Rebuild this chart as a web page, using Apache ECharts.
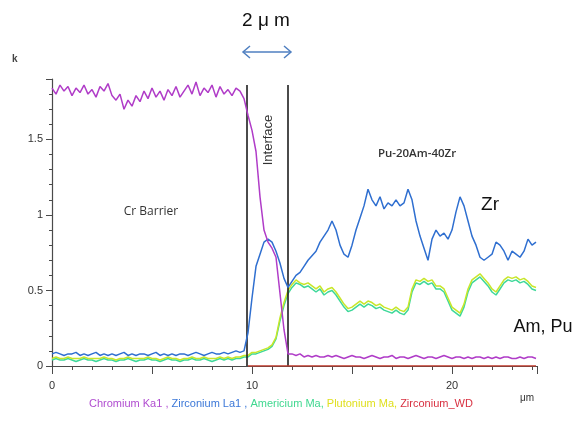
<!DOCTYPE html>
<html>
<head>
<meta charset="utf-8">
<script src="https://cdn.jsdelivr.net/npm/echarts@6/dist/echarts.min.js"></script>
<style>
  html, body { margin: 0; padding: 0; background: #fff; }
  #chart { width: 576px; height: 428px; }
</style>
</head>
<body>
<div id="chart"></div>
<script>
// Line scan across the Cr barrier / Pu-20Am-40Zr fuel interface (k-ratio vs distance)
const step = 0.2;          // µm between scan points, starting at 0
const xLabels = [0, 10, 20];
const yLabels = [0, 0.5, 1, 1.5];

const chromium = [
  1.84,1.80,1.86,1.82,1.85,1.79,1.84,1.81,1.86,1.80,
  1.83,1.78,1.85,1.82,1.87,1.79,1.76,1.80,1.70,1.76,
  1.72,1.79,1.75,1.82,1.77,1.84,1.78,1.82,1.76,1.83,
  1.79,1.85,1.78,1.82,1.86,1.80,1.88,1.79,1.84,1.81,
  1.86,1.78,1.85,1.80,1.83,1.79,1.84,1.82,1.77,1.66,
  1.56,1.42,1.12,0.90,0.82,0.78,0.72,0.48,0.24,0.08,
  0.08,0.07,0.08,0.06,0.07,0.06,0.07,0.06,0.06,0.07,
  0.06,0.07,0.06,0.05,0.06,0.07,0.06,0.06,0.05,0.06,
  0.07,0.06,0.05,0.06,0.06,0.07,0.05,0.06,0.06,0.05,
  0.06,0.07,0.06,0.05,0.06,0.06,0.05,0.06,0.07,0.06,
  0.05,0.06,0.06,0.05,0.06,0.05,0.06,0.06,0.05,0.06,
  0.05,0.06,0.05,0.06,0.06,0.05,0.05,0.06,0.05,0.06,
  0.06,0.05
];

const zirconium = [
  0.08,0.09,0.08,0.07,0.08,0.08,0.09,0.07,0.08,0.07,
  0.08,0.09,0.07,0.08,0.07,0.08,0.07,0.08,0.09,0.07,
  0.08,0.07,0.08,0.08,0.07,0.08,0.09,0.07,0.08,0.07,
  0.08,0.07,0.08,0.08,0.07,0.08,0.09,0.08,0.07,0.08,
  0.09,0.08,0.08,0.09,0.08,0.09,0.10,0.09,0.10,0.22,
  0.45,0.66,0.74,0.82,0.84,0.82,0.76,0.68,0.58,0.52,
  0.56,0.60,0.62,0.66,0.70,0.73,0.76,0.82,0.86,0.90,
  0.96,0.90,0.80,0.74,0.72,0.80,0.90,0.98,1.06,1.17,
  1.10,1.06,1.12,1.04,1.08,1.06,1.10,1.06,1.08,1.17,
  1.10,0.96,0.86,0.78,0.70,0.84,0.90,0.86,0.88,0.84,
  0.90,1.02,1.12,1.06,0.96,0.86,0.80,0.72,0.70,0.72,
  0.74,0.82,0.80,0.76,0.70,0.76,0.74,0.72,0.76,0.84,
  0.80,0.82
];

const americium = [
  0.04,0.05,0.04,0.04,0.05,0.04,0.03,0.04,0.05,0.04,
  0.04,0.03,0.04,0.05,0.04,0.04,0.03,0.04,0.04,0.05,
  0.04,0.03,0.04,0.04,0.05,0.04,0.04,0.03,0.04,0.05,
  0.04,0.04,0.03,0.04,0.04,0.05,0.04,0.04,0.05,0.04,
  0.03,0.04,0.05,0.04,0.05,0.04,0.05,0.05,0.06,0.06,
  0.08,0.08,0.09,0.10,0.11,0.13,0.18,0.30,0.40,0.48,
  0.52,0.55,0.54,0.52,0.53,0.51,0.49,0.51,0.47,0.49,
  0.50,0.47,0.43,0.39,0.36,0.37,0.39,0.41,0.39,0.41,
  0.40,0.38,0.39,0.37,0.36,0.35,0.37,0.35,0.34,0.37,
  0.49,0.55,0.54,0.56,0.54,0.55,0.51,0.51,0.49,0.43,
  0.37,0.35,0.33,0.39,0.49,0.55,0.57,0.59,0.56,0.53,
  0.49,0.47,0.51,0.55,0.57,0.56,0.57,0.55,0.56,0.54,
  0.51,0.50
];

const plutonium = [
  0.05,0.06,0.05,0.05,0.06,0.05,0.05,0.05,0.06,0.05,
  0.05,0.05,0.05,0.06,0.05,0.05,0.04,0.05,0.05,0.06,
  0.05,0.05,0.05,0.05,0.06,0.05,0.05,0.04,0.05,0.06,
  0.05,0.05,0.04,0.05,0.05,0.06,0.05,0.05,0.06,0.05,
  0.05,0.05,0.06,0.05,0.06,0.05,0.06,0.06,0.07,0.07,
  0.09,0.09,0.10,0.11,0.12,0.14,0.19,0.32,0.42,0.50,
  0.54,0.57,0.55,0.54,0.55,0.53,0.51,0.53,0.49,0.51,
  0.52,0.49,0.45,0.41,0.38,0.39,0.41,0.43,0.41,0.43,
  0.42,0.40,0.41,0.39,0.38,0.37,0.39,0.37,0.36,0.39,
  0.51,0.57,0.56,0.58,0.56,0.57,0.53,0.53,0.51,0.45,
  0.39,0.37,0.35,0.41,0.51,0.57,0.59,0.61,0.58,0.55,
  0.51,0.49,0.53,0.57,0.59,0.58,0.59,0.57,0.58,0.56,
  0.53,0.52
];

// Zirconium_WD trace sits on the baseline across the fuel side
const zrWdPos = [9.8, 24.2];
const zrWdVals = [0, 0];

// interface boundaries (µm) and the height the marker lines reach (k)
const boundaries = [9.75, 11.8];
const boundaryTop = 1.86;

const pos = chromium.map((_, i) => +(i * step).toFixed(2));
const pairs = (vals) => vals.map((v, i) => [pos[i], v]);

const FONT = '"Liberation Sans", Arial, sans-serif';
const SOFT = '"Open Sans", "Liberation Sans", sans-serif';
const axisColor = '#4a4a4a';

const chart = echarts.init(document.getElementById('chart'), null, { renderer: 'canvas' });

const lineSeries = (name, data, color, z) => ({
  name, type: 'line', data, showSymbol: false, z,
  lineStyle: { color, width: 1.5 }, itemStyle: { color },
  animation: false, silent: true
});

chart.setOption({
  animation: false,
  backgroundColor: '#fff',
  grid: { left: 52, right: 39, top: 79, bottom: 62 },
  xAxis: [
    {
      type: 'value', min: 0, max: 24.25, interval: 1,
      axisLine: { lineStyle: { color: axisColor, width: 1.2 } },
      axisTick: { length: 4, lineStyle: { color: axisColor } },
      axisLabel: {
        margin: 14, color: '#333', fontSize: 11, fontFamily: FONT,
        formatter: v => xLabels.some(t => Math.abs(v - t) < 1e-6) ? String(Math.round(v)) : ''
      },
      splitLine: { show: false }
    },
    {
      type: 'value', min: 0, max: 24.25, interval: 5, position: 'bottom',
      axisLine: { show: false },
      axisTick: { length: 8, lineStyle: { color: axisColor } },
      axisLabel: { show: false },
      splitLine: { show: false }
    }
  ],
  yAxis: [
    {
      type: 'value', min: 0, max: 1.9, interval: 0.1,
      axisLine: { show: true, lineStyle: { color: axisColor, width: 1.2 } },
      axisTick: { show: true, length: 3, lineStyle: { color: axisColor } },
      axisLabel: {
        margin: 9, color: '#333', fontSize: 11, fontFamily: FONT,
        formatter: v => yLabels.some(t => Math.abs(v - t) < 1e-6) ? String(+v.toFixed(1)) : ''
      },
      splitLine: { show: false }
    },
    {
      type: 'value', min: 0, max: 1.9, interval: 0.5, position: 'left',
      axisLine: { show: false },
      axisTick: { show: true, length: 6, lineStyle: { color: axisColor } },
      axisLabel: { show: false },
      splitLine: { show: false }
    }
  ],
  series: [
    lineSeries('Americium Ma', pairs(americium), '#3ed89a', 3),
    lineSeries('Plutonium Ma', pairs(plutonium), '#c8e62a', 4),
    lineSeries('Zirconium La1', pairs(zirconium), '#2f6fd0', 5),
    Object.assign(lineSeries('Chromium Ka1', pairs(chromium), '#b03cc8', 6), {
      markLine: {
        silent: true, symbol: 'none', animation: false,
        label: { show: false },
        lineStyle: { color: '#1e1e1e', width: 1.6, type: 'solid' },
        data: boundaries.map(b => [{ coord: [b, 0] }, { coord: [b, boundaryTop] }])
      }
    }),
    lineSeries('Zirconium_WD', zrWdPos.map((p, i) => [p, zrWdVals[i]]), '#c0392b', 8)
  ],
  graphic: [
    { type: 'text', left: 12, top: 54, style: { text: 'k', font: 'bold 10px ' + FONT, fill: '#444' } },
    { type: 'text', x: 151, y: 212, style: { text: 'Cr Barrier', font: '12px ' + SOFT, fill: '#333', align: 'center', verticalAlign: 'middle' } },
    { type: 'text', x: 417, y: 154, style: { text: 'Pu-20Am-40Zr', font: '600 11.5px ' + SOFT, fill: '#333', align: 'center', verticalAlign: 'middle' } },
    { type: 'text', x: 268, y: 140, rotation: Math.PI / 2, style: { text: 'Interface', font: '13px ' + FONT, fill: '#333', align: 'center', verticalAlign: 'middle' } },
    { type: 'text', x: 490, y: 205, style: { text: 'Zr', font: '19px ' + FONT, fill: '#111', align: 'center', verticalAlign: 'middle' } },
    { type: 'text', x: 543, y: 327, style: { text: 'Am, Pu', font: '18px ' + FONT, fill: '#111', align: 'center', verticalAlign: 'middle' } },
    { type: 'text', x: 266, y: 21, style: { text: '2 μ m', font: '19px ' + FONT, fill: '#111', align: 'center', verticalAlign: 'middle' } },
    // double-headed arrow marking the 2 µm interface width
    { type: 'polyline', shape: { points: [[243, 52], [291, 52]] }, style: { stroke: '#4f7fc0', lineWidth: 1.5, fill: null } },
    { type: 'polyline', shape: { points: [[250, 46], [243, 52], [250, 58]] }, style: { stroke: '#4f7fc0', lineWidth: 1.5, fill: null } },
    { type: 'polyline', shape: { points: [[284, 46], [291, 52], [284, 58]] }, style: { stroke: '#4f7fc0', lineWidth: 1.5, fill: null } },
    { type: 'text', x: 527, y: 398, style: { text: 'μm', font: '10px ' + FONT, fill: '#333', align: 'center', verticalAlign: 'middle' } },
    {
      type: 'text', left: 89, top: 398,
      style: {
        text: '{cr|Chromium Ka1 , }{zr|Zirconium La1 , }{am|Americium Ma, }{pu|Plutonium Ma, }{wd|Zirconium_WD}',
        font: '11px ' + FONT,
        rich: {
          cr: { fill: '#b04cd0', font: '11px ' + FONT },
          zr: { fill: '#3c78d8', font: '11px ' + FONT },
          am: { fill: '#40d890', font: '11px ' + FONT },
          pu: { fill: '#e0e020', font: '11px ' + FONT },
          wd: { fill: '#d83040', font: '11px ' + FONT }
        }
      }
    }
  ]
});
</script>
</body>
</html>
